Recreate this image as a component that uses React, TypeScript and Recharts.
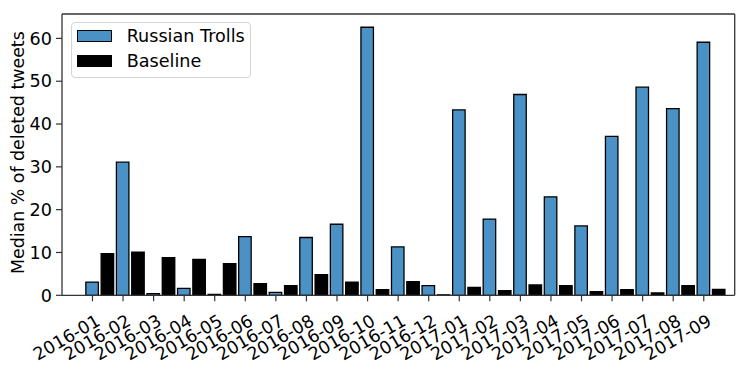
import { BarChart, Bar, XAxis, YAxis, Legend } from 'recharts';

const months = [
  '2016-01', '2016-02', '2016-03', '2016-04', '2016-05', '2016-06', '2016-07',
  '2016-08', '2016-09', '2016-10', '2016-11', '2016-12', '2017-01', '2017-02',
  '2017-03', '2017-04', '2017-05', '2017-06', '2017-07', '2017-08', '2017-09',
];
const trolls = [3.1, 31.1, 0.4, 1.6, 0.2, 13.7, 0.7, 13.5, 16.6, 62.6, 11.3, 2.25, 43.3, 17.8, 46.9, 23.0, 16.2, 37.1, 48.6, 43.6, 59.1];
const baseline = [9.7, 10.1, 8.8, 8.4, 7.4, 2.7, 2.25, 4.8, 3.1, 1.3, 3.2, 0.1, 1.85, 1.1, 2.4, 2.25, 0.85, 1.3, 0.55, 2.25, 1.4];
const seriesNames = ['Russian Trolls', 'Baseline'];
const yTicks = [0, 10, 20, 30, 40, 50, 60];
const yLabel = 'Median % of deleted tweets';

const data = months.map((m, i) => ({ month: m, trolls: trolls[i], baseline: baseline[i] }));

const FONT = '"DejaVu Sans", sans-serif';
const FS = 17.6;
const BLUE = '#4a92c6';
const SPINE = '#333';
// blue bar sits left of the category centre; ticks follow it
const SHIFT = 7.65;

function MonthTick({ x, y, payload }: any) {
  const tx = x - SHIFT;
  const ax = tx + 9;
  const ay = y + 29;
  return (
    <g>
      <line x1={tx} y1={y} x2={tx} y2={y + 6} stroke={SPINE} strokeWidth={1.2} />
      <text
        x={ax}
        y={ay}
        textAnchor="end"
        transform={`rotate(-30, ${ax}, ${ay})`}
        fontSize={FS}
        fontFamily={FONT}
        fill="#000"
      >
        {payload.value}
      </text>
    </g>
  );
}

function YLabel({ viewBox }: any) {
  const cx = 24;
  const cy = viewBox.y + viewBox.height / 2 - 2;
  return (
    <text
      x={cx}
      y={cy}
      textAnchor="middle"
      transform={`rotate(-90, ${cx}, ${cy})`}
      fontSize={17.4}
      fontFamily={FONT}
      fill="#000"
    >
      {yLabel}
    </text>
  );
}

function LegendBox() {
  const fills = [BLUE, '#000'];
  return (
    <div
      style={{
        boxSizing: 'border-box',
        width: 180,
        height: 55.5,
        border: '1px solid #d4d4d4',
        borderRadius: 4,
        background: 'rgba(255,255,255,0.8)',
        fontFamily: FONT,
        fontSize: FS,
        paddingTop: 0.7,
      }}
    >
      {seriesNames.map((name, i) => (
        <div key={name} style={{ display: 'flex', alignItems: 'center', height: 25 }}>
          <span
            style={{
              display: 'inline-block',
              boxSizing: 'border-box',
              width: 35,
              height: 12,
              marginLeft: 5.6,
              marginRight: 14.4,
              background: fills[i],
              border: '1.3px solid #000',
            }}
          />
          <span style={{ color: '#000', lineHeight: 1, whiteSpace: 'nowrap' }}>{name}</span>
        </div>
      ))}
    </div>
  );
}

export default function App() {
  return (
    <div style={{ position: 'absolute', left: 0, top: 0, background: '#fff' }}>
      <BarChart
        width={748}
        height={369}
        data={data}
        margin={{ top: 13, right: 12.3, left: 0, bottom: 0 }}
        barGap={2.8}
        barCategoryGap={0}
      >
        <XAxis
          dataKey="month"
          height={73.7}
          padding={{ left: 22.85, right: 8 }}
          interval={0}
          tickLine={false}
          tickSize={0}
          tickMargin={0}
          tick={<MonthTick />}
          axisLine={{ stroke: SPINE, strokeWidth: 1.3 }}
        />
        <XAxis
          xAxisId="top"
          dataKey="month"
          orientation="top"
          height={1}
          tick={false}
          tickLine={false}
          axisLine={{ stroke: SPINE, strokeWidth: 1.3 }}
        />
        <YAxis
          domain={[0, 65.7]}
          ticks={yTicks}
          allowDataOverflow
          width={62}
          tickSize={6}
          tickMargin={4}
          tick={{ fill: '#000', fontSize: FS, fontFamily: FONT }}
          tickLine={{ stroke: SPINE, strokeWidth: 1.2 }}
          axisLine={{ stroke: SPINE, strokeWidth: 1.3 }}
          label={<YLabel />}
        />
        <YAxis
          yAxisId="right"
          orientation="right"
          width={1}
          domain={[0, 65.7]}
          tick={false}
          tickLine={false}
          axisLine={{ stroke: SPINE, strokeWidth: 1.3 }}
        />
        <Bar dataKey="trolls" name={seriesNames[0]} fill={BLUE} stroke="#000" strokeWidth={1.3} barSize={12.5} isAnimationActive={false} />
        <Bar dataKey="baseline" name={seriesNames[1]} fill="#000" stroke="#000" strokeWidth={1.3} barSize={12.5} isAnimationActive={false} />
        <Legend
          layout="horizontal"
          verticalAlign="middle"
          align="center"
          content={() => <LegendBox />}
          wrapperStyle={{ left: 70.7, top: 22.3, width: 180, height: 55.5 }}
        />
      </BarChart>
    </div>
  );
}
